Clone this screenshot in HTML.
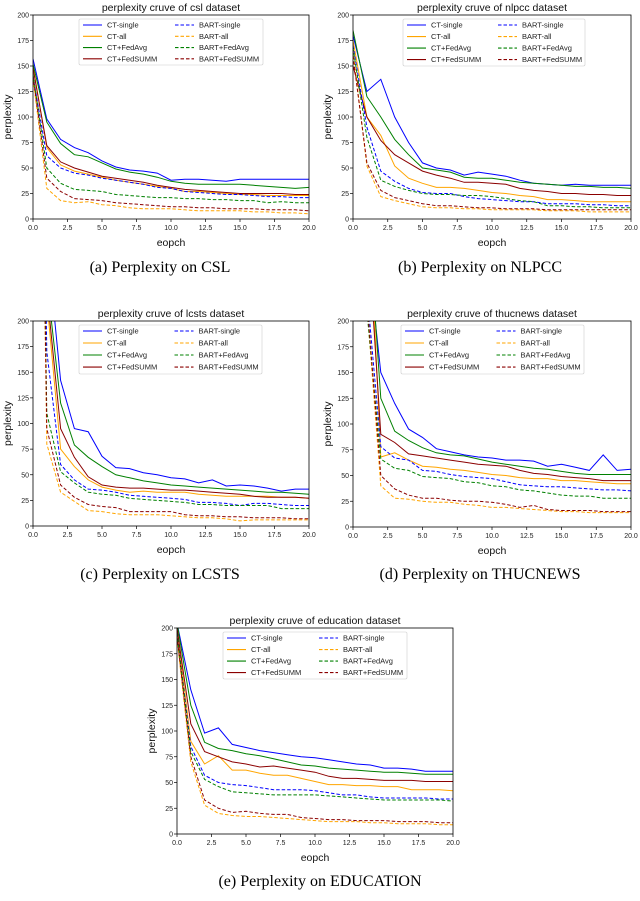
<!DOCTYPE html>
<html><head><meta charset="utf-8"><style>
html,body{margin:0;padding:0;background:#fff;}
body{width:640px;height:901px;overflow:hidden;position:relative;font-family:"Liberation Sans",sans-serif;}
.cap{position:absolute;font-family:"Liberation Serif",serif;font-size:16px;color:#000;text-align:center;width:320px;}
</style></head><body>
<svg id="fig" width="640" height="901" style="position:absolute;left:0;top:0"></svg>
<div class="cap" style="left:0;top:259px">(a) Perplexity on CSL</div>
<div class="cap" style="left:320px;top:259px">(b) Perplexity on NLPCC</div>
<div class="cap" style="left:0;top:566px">(c) Perplexity on LCSTS</div>
<div class="cap" style="left:320px;top:566px">(d) Perplexity on THUCNEWS</div>
<div class="cap" style="left:160px;top:873px">(e) Perplexity on EDUCATION</div>
<script>
const seriesNames = ["CT-single","CT-all","CT+FedAvg","CT+FedSUMM","BART-single","BART-all","BART+FedAvg","BART+FedSUMM"];
const epochs = [0,1,2,3,4,5,6,7,8,9,10,11,12,13,14,15,16,17,18,19,20];
const yTicks = [0,25,50,75,100,125,150,175,200];
const xTicks = [0,2.5,5,7.5,10,12.5,15,17.5,20];
const xTickLabels = ["0.0","2.5","5.0","7.5","10.0","12.5","15.0","17.5","20.0"];

const cslData = [
 [157,98,78,70,65,57,51,48,47,45,38,39,39,38,37,39,39,39,39,39,39],
 [150,70,53,47,44,41,38,36,34,32,30,27,27,26,25,24,24,23,23,23,23],
 [152,95,74,63,61,55,49,46,44,41,37,35,34,34,34,34,33,32,31,30,31],
 [148,72,56,50,46,42,40,38,36,33,31,29,28,27,26,25,25,25,25,24,24],
 [140,62,50,45,43,40,38,36,34,31,30,27,26,25,24,24,23,22,22,21,21],
 [138,30,18,16,17,14,13,11,10,10,10,9,8,8,8,8,7,7,6,6,5],
 [142,50,35,29,28,27,24,23,22,21,21,20,20,19,19,18,18,16,17,16,16],
 [140,40,27,20,19,18,16,15,14,13,12,12,11,11,10,10,10,9,9,9,8]];
const nlpccData = [
 [180,125,137,100,75,55,50,48,43,46,44,42,38,35,34,33,34,33,33,33,33],
 [175,100,82,52,40,35,31,31,30,28,26,25,23,22,19,19,18,17,17,17,17],
 [185,120,100,78,63,50,48,46,41,40,40,38,36,35,34,33,32,32,31,31,30],
 [150,100,77,63,55,47,43,40,36,36,35,34,30,28,27,25,25,24,24,23,23],
 [170,90,47,37,30,26,25,25,22,20,19,18,17,17,15,15,15,14,14,13,13],
 [165,52,22,18,15,12,11,11,10,10,9,9,9,9,8,8,8,7,7,7,7],
 [168,80,38,32,28,25,24,24,23,23,22,20,18,17,13,13,12,12,11,11,11],
 [160,55,28,21,18,15,13,13,12,11,11,10,10,10,9,9,9,9,9,9,9]];
const lcstsData = [
 [1200,280,142,95,92,68,57,56,52,50,47,46,42,45,39,40,39,37,34,36,36],
 [1200,220,75,58,45,38,35,33,34,33,33,33,31,30,29,29,29,29,28,28,27],
 [1200,240,120,79,67,58,50,47,44,42,40,39,38,37,36,35,34,33,33,32,31],
 [1200,230,95,67,48,40,38,37,37,36,35,35,34,33,32,31,29,28,28,28,27],
 [1000,170,60,45,36,35,33,30,29,28,27,26,23,23,22,20,22,22,21,20,20],
 [1000,80,33,24,15,14,12,11,11,11,10,9,8,8,7,5,6,6,6,6,6],
 [1000,110,53,42,33,31,30,27,26,25,24,23,21,21,20,20,20,20,17,17,17],
 [1000,95,40,28,21,19,18,14,14,14,14,11,10,10,9,9,8,8,8,7,7]];
const thucData = [
 [1500,275,150,120,95,87,76,73,70,68,67,65,65,64,59,61,58,55,70,55,56],
 [1500,360,68,72,65,59,58,56,55,53,51,50,48,47,47,45,45,44,43,42,42],
 [1500,320,125,93,84,77,72,70,69,66,63,61,59,57,56,54,52,51,51,51,51],
 [1500,300,90,82,71,69,67,65,63,61,60,59,55,52,51,49,48,47,45,45,45],
 [1500,230,78,67,65,55,54,51,49,48,47,44,41,40,39,39,38,37,36,36,35],
 [1500,215,40,28,27,25,24,24,22,21,19,19,18,17,16,15,15,14,14,14,14],
 [1500,210,66,57,55,49,48,47,44,43,40,39,36,35,33,31,30,30,28,28,28],
 [1500,220,50,37,31,28,28,26,25,25,24,22,19,21,17,16,16,16,15,15,15]];
const eduData = [
 [205,140,98,103,87,84,81,79,77,75,74,72,70,68,67,64,64,63,61,61,61],
 [200,90,68,76,62,62,59,57,57,54,51,48,48,47,47,46,46,43,43,43,42],
 [205,125,89,83,81,78,76,73,70,67,66,64,63,62,61,60,60,59,58,58,58],
 [200,107,80,75,70,68,65,66,64,62,60,56,54,54,53,52,52,52,51,51,51],
 [195,85,57,50,48,47,45,43,43,43,42,40,38,38,36,35,35,35,35,34,34],
 [190,70,28,20,18,17,17,16,15,14,13,12,12,12,11,11,10,10,10,9,9],
 [195,80,53,46,41,40,39,38,38,38,38,37,36,35,34,33,33,33,33,33,32],
 [192,75,33,25,21,22,20,19,19,16,15,14,14,13,13,13,12,12,12,11,11]];

const colors=["#0000ff","#ffa500","#008000","#8b0000","#0000ff","#ffa500","#008000","#8b0000"];
const NS="http://www.w3.org/2000/svg";
const fig=document.getElementById('fig');
function mk(tag,attrs,parent){const e=document.createElementNS(NS,tag);for(const k in attrs)e.setAttribute(k,attrs[k]);(parent||fig).appendChild(e);return e;}

function drawPanel(id,title,data,box,legend){
  const g=mk('g',{});
  
  
  const xs=v=>box.x0+(box.x1-box.x0)*v/20;
  const ys=v=>box.y0-(box.y0-box.y1)*v/200;
  const cp=mk('clipPath',{id:'clip'+id},g);
  mk('rect',{x:box.x0,y:box.y1,width:box.x1-box.x0,height:box.y0-box.y1},cp);
  // title
  const t=mk('text',{x:(box.x0+box.x1)/2,y:box.y1-4,'text-anchor':'middle','font-size':'10.5','fill':'#111'},g);
  t.textContent=title;
  
  
  // ticks
  yTicks.forEach(v=>{
    mk('line',{x1:box.x0-3,x2:box.x0,y1:ys(v),y2:ys(v),stroke:'#000','stroke-width':0.7},g);
    const l=mk('text',{x:box.x0-4,y:ys(v)+2.5,'text-anchor':'end','font-size':'7','fill':'#222'},g);
    l.textContent=v;
    
    
  });
  xTicks.forEach((v,i)=>{
    mk('line',{x1:xs(v),x2:xs(v),y1:box.y0,y2:box.y0+3,stroke:'#000','stroke-width':0.7},g);
    const l=mk('text',{x:xs(v),y:box.y0+11,'text-anchor':'middle','font-size':'7','fill':'#222'},g);
    l.textContent=xTickLabels[i];
    
    
  });
  const xl=mk('text',{x:(box.x0+box.x1)/2,y:box.y0+27,'text-anchor':'middle','font-size':'10.5','fill':'#111'},g);
  xl.textContent='eopch';
  
  
  const ym=(box.y0+box.y1)/2;
  const yl=mk('text',{x:box.x0-22,y:ym,'text-anchor':'middle','font-size':'10.5','fill':'#111',transform:`rotate(-90 ${box.x0-22} ${ym})`},g);
  yl.textContent='perplexity';
  
  
  // series
  const sg=mk('g',{'clip-path':`url(#clip${id})`},g);
  data.forEach((arr,si)=>{
    const pts=arr.map((v,i)=>xs(epochs[i]).toFixed(1)+','+ys(v).toFixed(1)).join(' ');
    const p=mk('polyline',{points:pts,fill:'none',stroke:colors[si],'stroke-width':1,'stroke-dasharray':si>=4?'3.5,2':'none'},sg);
    
    
  });
  // frame
  mk('rect',{x:box.x0,y:box.y1,width:box.x1-box.x0,height:box.y0-box.y1,fill:'none',stroke:'#000','stroke-width':0.8},g);
  // legend
  const lg=mk('g',{},g);
  
  
  mk('rect',{x:legend.x,y:legend.y,width:legend.w,height:legend.h,fill:'#fff','fill-opacity':0.85,stroke:'#ccc','stroke-width':0.6,rx:1.5},lg);
  seriesNames.forEach((n,si)=>{
    const col=si<4?0:1, row=si%4;
    const lx=legend.x+4+col*legend.w*0.5, ly=legend.y+6+row*legend.h*0.245;
    mk('line',{x1:lx,x2:lx+19,y1:ly,y2:ly,stroke:colors[si],'stroke-width':1.1,'stroke-dasharray':si>=4?'3.5,2':'none'},lg);
    const tx=mk('text',{x:lx+24,y:ly+2.7,'font-size':'7.5','fill':'#222'},lg);
    tx.textContent=n;
    
    
  });
}
drawPanel('a','perplexity cruve of csl dataset',cslData,{x0:33,x1:309,y0:219,y1:15},{x:79,y:19,w:184,h:46});
drawPanel('b','perplexity cruve of nlpcc dataset',nlpccData,{x0:353,x1:631,y0:219,y1:15},{x:403,y:19,w:182,h:47});
drawPanel('c','perplexity cruve of lcsts dataset',lcstsData,{x0:33,x1:309,y0:526,y1:321},{x:79,y:325,w:183,h:49});
drawPanel('d','perplexity cruve of thucnews dataset',thucData,{x0:353,x1:631,y0:527,y1:321},{x:401,y:325,w:183,h:49});
drawPanel('e','perplexity cruve of education dataset',eduData,{x0:177,x1:453,y0:834,y1:628},{x:223,y:632,w:184,h:47});
</script>
</body></html>
